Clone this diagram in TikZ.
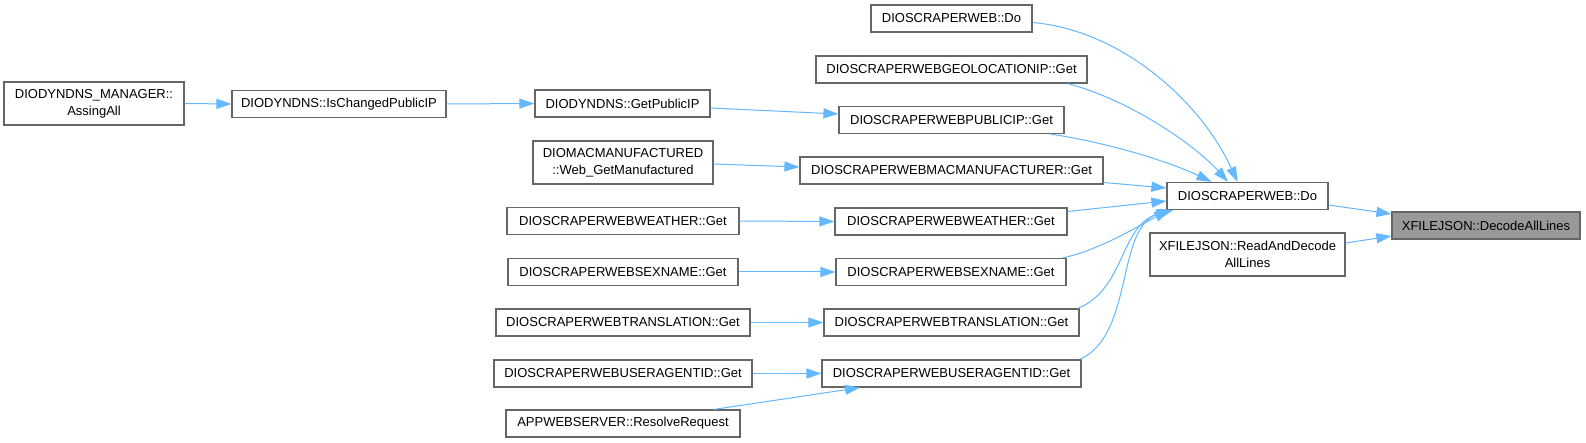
\documentclass[tikz,border=0pt]{standalone}
\usepackage{fontspec}
\setmainfont{Liberation Sans}
\usetikzlibrary{arrows.meta}
\definecolor{edgeblue}{HTML}{63B8FF}
\definecolor{boxline}{HTML}{666666}
\definecolor{hlfill}{HTML}{999999}
\begin{document}
\begin{tikzpicture}[x=1pt,y=-1pt,
  box/.style={draw=boxline,line width=1.2pt,fill=white,inner sep=0pt,align=center,
    minimum height=27pt,font=\fontsize{13}{17}\selectfont},
  tall/.style={minimum height=43pt},
  hl/.style={fill=hlfill},
  edge/.style={draw=edgeblue,line width=1pt,-{Triangle[length=15pt,width=10pt]}}]
\fill[white] (0,0) rectangle (1586,443);
\useasboundingbox (0,0) rectangle (1586,443);
% left
\node[box,tall,minimum width=180pt] (mgr) at (94,103.5) {DIODYNDNS\_MANAGER::\\AssingAll};
\node[box,minimum width=214pt] (isch) at (339,104) {DIODYNDNS::IsChangedPublicIP};
\node[box,minimum width=175pt] (gpip) at (622.5,103.5) {DIODYNDNS::GetPublicIP};
\node[box,tall,minimum width=180pt] (mac) at (623,162.5) {DIOMACMANUFACTURED\\::Web\_GetManufactured};
\node[box,minimum width=232pt] (lw) at (623,221) {DIOSCRAPERWEBWEATHER::Get};
\node[box,minimum width=230pt] (ls) at (623,272) {DIOSCRAPERWEBSEXNAME::Get};
\node[box,minimum width=254pt] (lt) at (623,322.5) {DIOSCRAPERWEBTRANSLATION::Get};
\node[box,minimum width=258pt] (lu) at (623,373.5) {DIOSCRAPERWEBUSERAGENTID::Get};
\node[box,minimum width=234pt] (app) at (623,423.5) {APPWEBSERVER::ResolveRequest};
% middle column
\node[box,minimum width=161pt] (dotop) at (951.5,18.5) {DIOSCRAPERWEB::Do};
\node[box,minimum width=271pt] (geo) at (951.5,69.5) {DIOSCRAPERWEBGEOLOCATIONIP::Get};
\node[box,minimum width=225pt] (pub) at (951.5,120) {DIOSCRAPERWEBPUBLICIP::Get};
\node[box,minimum width=303pt] (rmac) at (951.5,170.5) {DIOSCRAPERWEBMACMANUFACTURER::Get};
\node[box,minimum width=232pt] (rw) at (951,221.5) {DIOSCRAPERWEBWEATHER::Get};
\node[box,minimum width=230pt] (rs) at (951,272) {DIOSCRAPERWEBSEXNAME::Get};
\node[box,minimum width=255pt] (rt) at (951.5,322.5) {DIOSCRAPERWEBTRANSLATION::Get};
\node[box,minimum width=259pt] (ru) at (951.5,373.5) {DIOSCRAPERWEBUSERAGENTID::Get};
% right
\node[box,minimum width=161pt] (do) at (1247.5,196) {DIOSCRAPERWEB::Do};
\node[box,tall,minimum width=195pt] (rad) at (1247.5,254.5) {XFILEJSON::ReadAndDecode\\AllLines};
\node[box,hl,minimum width=188pt] (dal) at (1486,225.5) {XFILEJSON::DecodeAllLines};
% edges
\draw[edge] (mgr.east) -- (isch.west);
\draw[edge] (isch.east) -- (gpip.west);
\draw[edge] ([yshift=-4.5pt]gpip.east) -- ([yshift=6pt]pub.west);
\draw[edge] ([yshift=-1.5pt]mac.east) -- ([yshift=3.5pt]rmac.west);
\draw[edge] (lw.east) -- (rw.west);
\draw[edge] (ls.east) -- (rs.west);
\draw[edge] (lt.east) -- (rt.west);
\draw[edge] (lu.east) -- (ru.west);
\draw[edge] ([xshift=91pt]app.north) -- ([xshift=-91.5pt]ru.south);
\draw[edge] ([yshift=-4pt]dotop.east) .. controls (1120,30) and (1200,100) .. ([xshift=-10pt]do.north);
\draw[edge] ([xshift=-20pt]geo.south east) .. controls (1130,100) and (1195,145) .. ([xshift=-19.5pt]do.north);
\draw[edge] ([xshift=-14pt]pub.south east) .. controls (1110,143) and (1170,162) .. ([xshift=-36pt]do.north);
\draw[edge] ([yshift=-12pt]rmac.east) -- ([yshift=8pt]do.west);
\draw[edge] ([yshift=10pt]rw.east) -- ([yshift=-5pt]do.west);
\draw[edge] ([xshift=-4pt]rs.north east) .. controls (1100,250) and (1140,225) .. ([xshift=3pt]do.south west);
\draw[edge] ([xshift=-2pt]rt.north east) .. controls (1125,290) and (1120,225) .. ([xshift=5pt]do.south west);
\draw[edge] ([xshift=-2pt]ru.north east) .. controls (1135,335) and (1115,225) .. ([xshift=7pt]do.south west);
\draw[edge] ([yshift=-9pt]do.east) -- ([yshift=11.5pt]dal.west);
\draw[edge] ([yshift=11.5pt]rad.east) -- ([yshift=-10.5pt]dal.west);
\end{tikzpicture}
\end{document}
